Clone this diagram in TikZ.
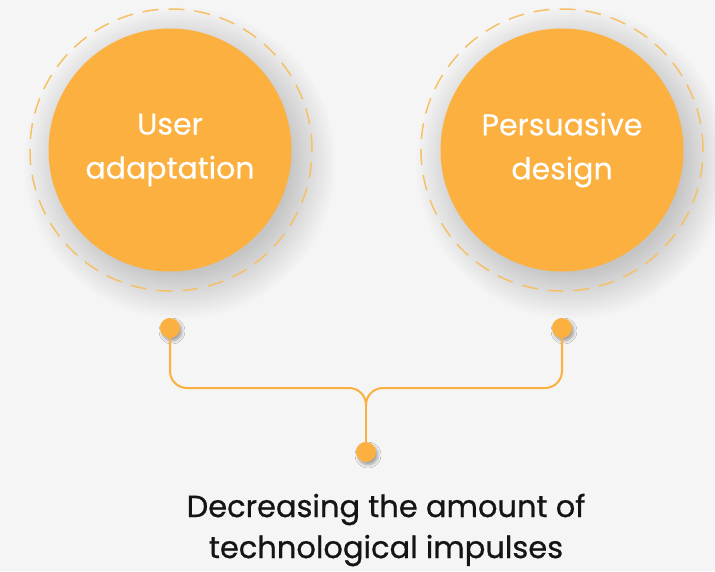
\documentclass[tikz,border=0pt]{standalone}
\usepackage{fontspec}
\setmainfont{Poppins}
\newfontfamily\goalfont{Poppins}[FakeBold=0.7]
\newfontfamily\bubblefont{Poppins}[FakeBold=0.3]
\usetikzlibrary{calc,shadows.blur}

\definecolor{bgcol}{HTML}{F5F5F5}
\definecolor{orangefill}{HTML}{FBB040}
\definecolor{ringcol}{HTML}{F6C166}
\definecolor{inkcol}{HTML}{141414}

\tikzset{
    bubble/.style={circle, fill=orangefill, minimum size=243pt, inner sep=0pt,
        text=white, align=center, font=\bubblefont\fontsize{30}{44}\selectfont},
    haze/.style={fill=black, opacity=0.009},
    ring/.style={circle, draw=ringcol, line width=1.5pt,
        dash pattern=on 16pt off 10pt, minimum size=282pt, inner sep=0pt},
    knob/.style={circle, fill=orangefill, minimum size=20pt, inner sep=0pt,
        blur shadow={shadow xshift=2pt, shadow yshift=-3pt, shadow blur steps=6,
            shadow blur radius=3pt, shadow opacity=35}},
    link/.style={draw=orangefill, line width=2pt, rounded corners=17pt},
}

\begin{document}
\begin{tikzpicture}[x=1pt, y=-1pt]
    % background
    \useasboundingbox[fill=bgcol] (0,0) rectangle (715,571);
    \coordinate (userc) at (170,150);
    \coordinate (persc) at (562,150);
    % draw soft shadows
    \foreach \b in {userc, persc}
        \foreach \r in {0, 2, ..., 46}
            \fill[haze] ($(\b)+(10,13)$) circle[radius=110pt+\r pt];
    % draw circles
    \node[bubble] (user) at (userc) {User\\adaptation};
    \node[bubble] (pers) at (persc) {Persuasive\\design};
    % draw dashed rings
    \node[ring] (userring) at (171,150) {};
    \node[ring] (persring) at (562,150) {};
    % draw knobs
    \node[knob] (userknob) at (170,328) {};
    \node[knob] (persknob) at (562,328) {};
    \node[knob] (goalknob) at (366,452) {};
    \coordinate (fork) at (366,388);
    \coordinate (tip) at (366,405);
    % draw connector
    \draw[link] (userknob) |- (fork) -- (tip);
    \draw[link] (persknob) |- (fork) -- (tip);
    \draw[link] (tip) -- (goalknob);
    % draw goal text
    \node[align=center, text=inkcol, font=\goalfont\fontsize{30.5}{41}\selectfont]
        (goal) at (386,530) {Decreasing the amount of\\technological impulses};
\end{tikzpicture}
\end{document}
